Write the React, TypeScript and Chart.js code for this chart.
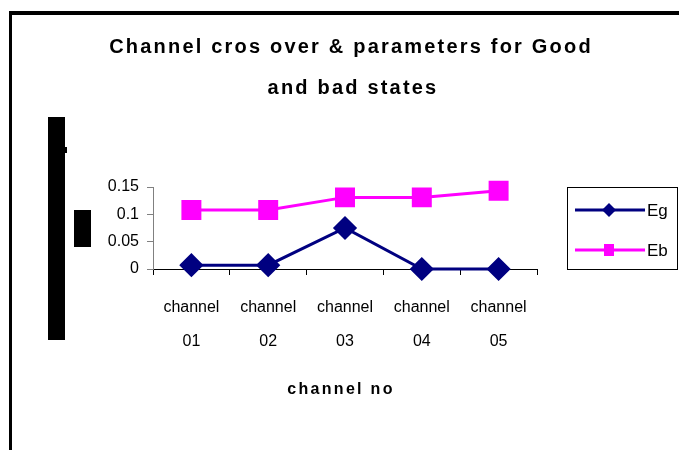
import React, { useEffect, useRef } from 'react';
import { Chart, registerables } from 'chart.js';

Chart.register(...registerables);

// Chart data
const categories: string[][] = [
  ['channel', '01'],
  ['channel', '02'],
  ['channel', '03'],
  ['channel', '04'],
  ['channel', '05'],
];
const egValues = [0.007, 0.007, 0.075, 0, 0];
const ebValues = [0.108, 0.108, 0.131, 0.131, 0.143];
const yTickValues = [0, 0.05, 0.1, 0.15];
const titleLines = ['Channel cros over & parameters for Good', 'and bad states'];
const xAxisTitle = 'channel no';
const seriesNames = ['Eg', 'Eb'];

const FONT = "'Liberation Sans', Arial, sans-serif";
const EG_COLOR = '#000080';
const EB_COLOR = '#FF00FF';

// Draws the spaced-out title, the axis title and the boxed legend.
const decorPlugin = {
  id: 'decor',
  afterDraw(chart: any) {
    const ctx: CanvasRenderingContext2D = chart.ctx;
    ctx.save();
    ctx.fillStyle = '#000';
    ctx.textAlign = 'center';
    ctx.textBaseline = 'middle';
    (ctx as any).letterSpacing = '2.2px';
    ctx.font = `bold 20px ${FONT}`;
    ctx.fillText(titleLines[0], 351, 47);
    ctx.fillText(titleLines[1], 353, 88);
    (ctx as any).letterSpacing = '2.3px';
    ctx.font = `bold 16px ${FONT}`;
    ctx.fillText(xAxisTitle, 341, 390);
    (ctx as any).letterSpacing = '0px';

    // legend box
    const bx = 567, by = 187, bw = 110, bh = 82;
    ctx.strokeStyle = '#000';
    ctx.lineWidth = 1;
    ctx.strokeRect(bx + 0.5, by + 0.5, bw, bh);
    const rows = [210, 250];
    chart.data.datasets.forEach((ds: any, i: number) => {
      const y = rows[i];
      ctx.strokeStyle = ds.borderColor;
      ctx.lineWidth = 3;
      ctx.beginPath();
      ctx.moveTo(575, y);
      ctx.lineTo(645, y);
      ctx.stroke();
      ctx.fillStyle = ds.backgroundColor;
      const cx = 609;
      if (ds.pointStyle === 'rectRot') {
        const r = 7;
        ctx.beginPath();
        ctx.moveTo(cx - r, y);
        ctx.lineTo(cx, y - r);
        ctx.lineTo(cx + r, y);
        ctx.lineTo(cx, y + r);
        ctx.closePath();
        ctx.fill();
      } else {
        ctx.fillRect(cx - 5, y - 6, 10, 12);
      }
      ctx.fillStyle = '#000';
      ctx.textAlign = 'left';
      ctx.font = `17px ${FONT}`;
      ctx.fillText(ds.label, 647, y + 1);
    });
    ctx.restore();
  },
};

export default function App() {
  const canvasRef = useRef<HTMLCanvasElement | null>(null);

  useEffect(() => {
    const canvas = canvasRef.current;
    if (!canvas) return;
    const chart = new Chart(canvas, {
      type: 'line',
      data: {
        labels: categories,
        datasets: [
          {
            label: seriesNames[0],
            data: egValues,
            borderColor: EG_COLOR,
            backgroundColor: EG_COLOR,
            borderWidth: 3,
            pointStyle: 'rectRot',
            pointRadius: 10,
            pointHoverRadius: 10,
            tension: 0,
            clip: false,
          },
          {
            label: seriesNames[1],
            data: ebValues,
            borderColor: EB_COLOR,
            backgroundColor: EB_COLOR,
            borderWidth: 3,
            pointStyle: 'rect',
            pointRadius: 12,
            pointHoverRadius: 12,
            tension: 0,
            clip: false,
          },
        ],
      },
      options: {
        responsive: false,
        animation: false,
        layout: { padding: { left: 103, top: 187, right: 142, bottom: 81 } },
        plugins: {
          legend: { display: false },
          title: { display: false },
          tooltip: { enabled: false },
        },
        scales: {
          x: {
            offset: true,
            grid: {
              offset: true,
              drawOnChartArea: false,
              tickLength: 6,
              color: '#000',
            },
            border: { color: '#000', width: 1 },
            ticks: {
              color: '#000',
              padding: 16,
              maxRotation: 0,
              autoSkip: false,
              font: { family: FONT, size: 16, lineHeight: 2.1 },
            },
            afterFit(scale: any) {
              scale.height = 100;
            },
          },
          y: {
            min: 0,
            max: 0.15,
            grid: {
              drawOnChartArea: false,
              tickLength: 6,
              color: '#808080',
            },
            border: { color: '#808080', width: 1 },
            ticks: {
              color: '#000',
              padding: 8,
              font: { family: FONT, size: 16 },
              callback: (v: any) => String(v),
            },
            afterBuildTicks(scale: any) {
              scale.ticks = yTickValues.map((v) => ({ value: v }));
            },
            afterFit(scale: any) {
              scale.width = 50;
            },
          },
        },
      },
      plugins: [decorPlugin],
    });
    return () => chart.destroy();
  }, []);

  return (
    <div
      style={{
        position: 'absolute',
        left: 0,
        top: 0,
        width: 679,
        height: 450,
        overflow: 'hidden',
        background: '#fff',
      }}
    >
      <div
        style={{
          position: 'absolute',
          left: 9,
          top: 11,
          width: 700,
          height: 500,
          borderTop: '4px solid #000',
          borderLeft: '3px solid #000',
        }}
      />
      <div style={{ position: 'absolute', left: 48, top: 117, width: 17, height: 223, background: '#000' }} />
      <div style={{ position: 'absolute', left: 65, top: 147, width: 2, height: 6, background: '#000' }} />
      <div style={{ position: 'absolute', left: 74, top: 210, width: 17, height: 37, background: '#000' }} />
      <canvas
        ref={canvasRef}
        width={679}
        height={450}
        style={{ position: 'absolute', left: 0, top: 0 }}
      />
    </div>
  );
}
